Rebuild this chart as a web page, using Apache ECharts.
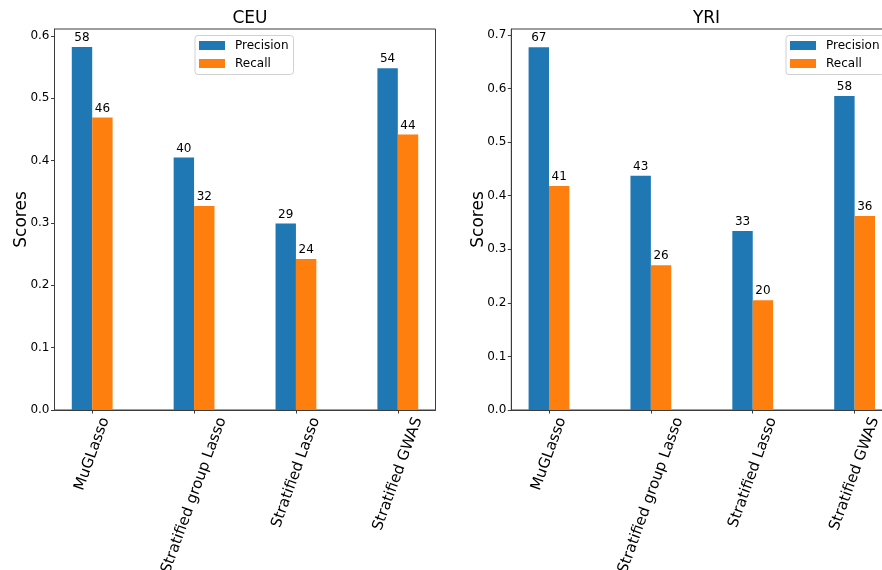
<!DOCTYPE html>
<html><head><meta charset="utf-8">
<script src="https://cdn.jsdelivr.net/npm/echarts@6/dist/echarts.min.js"></script>
<style>html,body{margin:0;padding:0;background:#fff}#c{width:882px;height:570px}</style>
</head><body><div id="c"></div>
<script>
const categories = ['MuGLasso', 'Stratified group Lasso', 'Stratified Lasso', 'Stratified GWAS'];
const seriesNames = ['Precision', 'Recall'];
const panelTitles = ['CEU', 'YRI'];
const ceuPrecision = [0.582, 0.405, 0.299, 0.548];
const ceuRecall = [0.469, 0.327, 0.242, 0.442];
const ceuPrecisionLabels = ['58', '40', '29', '54'];
const ceuRecallLabels = ['46', '32', '24', '44'];
const yriPrecision = [0.677, 0.437, 0.334, 0.586];
const yriRecall = [0.418, 0.270, 0.205, 0.362];
const yriPrecisionLabels = ['67', '43', '33', '58'];
const yriRecallLabels = ['41', '26', '20', '36'];
const ceuYTicks = [0, 0.1, 0.2, 0.3, 0.4, 0.5, 0.6];
const yriYTicks = [0, 0.1, 0.2, 0.3, 0.4, 0.5, 0.6, 0.7];

const FONT = 'DejaVu Sans';
const AX = '#3c3c3c';
const BLUE = '#1f77b4', ORANGE = '#ff7f0e';

// rich styles so the rotated label's bounding box is centred on its tick (matplotlib style)
const ctx = document.createElement('canvas').getContext('2d');
ctx.font = '15px "' + FONT + '"';
const rich = {};
categories.forEach((c, i) => {
  const L = ctx.measureText(c).width;
  rich['c' + i] = {fontSize: 15, fontFamily: FONT, color: '#000', padding: [0.321 * L, 0.883 * L, 0, 0]};
});
const catIdx = categories.map((c, i) => i);

function xAxis(gridIndex) {
  return {
    type: 'value', gridIndex, min: -0.37, max: 3.37,
    splitLine: {show: false},
    axisLine: {show: true, onZero: false, lineStyle: {color: AX, width: 1}},
    axisTick: {show: true, customValues: catIdx, length: 3.5, lineStyle: {color: AX}},
    axisLabel: {
      customValues: catIdx, rotate: 70, align: 'center', verticalAlign: 'middle', margin: 8,
      formatter: v => { const i = Math.round(v); return '{c' + i + '|' + categories[i] + '}'; },
      rich: rich
    },
    z: 5
  };
}
function yAxis(gridIndex, max, ticks) {
  return {
    type: 'value', gridIndex, min: 0, max: max,
    name: 'Scores', nameLocation: 'middle', nameGap: 24.5, nameMoveOverlap: false,
    nameTextStyle: {fontSize: 17, fontFamily: FONT, color: '#000'},
    splitLine: {show: false},
    axisLine: {show: true, onZero: false, lineStyle: {color: AX, width: 1}},
    axisTick: {show: true, customValues: ticks, length: 3.5, lineStyle: {color: AX}},
    axisLabel: {customValues: ticks, margin: 5, fontSize: 12, fontFamily: FONT, color: '#000',
      formatter: v => v.toFixed(1)},
    z: 5
  };
}
function legend(left) {
  return {
    left: left, top: 35.5, orient: 'vertical', icon: 'rect', itemWidth: 26, itemHeight: 9,
    itemGap: 4, padding: [3, 5, 4, 4],
    backgroundColor: 'rgba(255,255,255,0.8)', borderColor: '#d0d0d0', borderWidth: 1, borderRadius: 3,
    textStyle: {fontSize: 12, fontFamily: FONT, color: '#000', lineHeight: 14, padding: [0, 0, 0, 5]},
    data: seriesNames, selectedMode: false
  };
}
function bars(name, values, labels, color, idx) {
  return {
    type: 'bar', name: name, xAxisIndex: idx, yAxisIndex: idx,
    data: values.map((v, i) => [i, v]),
    barWidth: 20.4, barGap: '0%',
    itemStyle: {color: color},
    label: {show: true, position: 'top', distance: 3, fontSize: 12, fontFamily: FONT, color: '#000',
      formatter: p => labels[p.dataIndex]},
    z: 2
  };
}

const chart = echarts.init(document.getElementById('c'), null, {renderer: 'canvas'});
chart.setOption({
  animation: false,
  backgroundColor: '#fff',
  textStyle: {fontFamily: FONT},
  title: [
    {text: panelTitles[0], left: 245, top: 5, textAlign: 'center',
      textStyle: {fontSize: 17, fontWeight: 'normal', fontFamily: FONT, color: '#000'}},
    {text: panelTitles[1], left: 701.5, top: 5, textAlign: 'center',
      textStyle: {fontSize: 17, fontWeight: 'normal', fontFamily: FONT, color: '#000'}}
  ],
  legend: [legend(195), legend(786)],
  grid: [
    {left: 54.5, top: 29, width: 381, height: 381, show: true, borderColor: AX, borderWidth: 1,
      backgroundColor: 'transparent', containLabel: false, outerBoundsMode: 'none'},
    {left: 511.3, top: 29, width: 381, height: 381, show: true, borderColor: AX, borderWidth: 1,
      backgroundColor: 'transparent', containLabel: false, outerBoundsMode: 'none'}
  ],
  xAxis: [xAxis(0), xAxis(1)],
  yAxis: [yAxis(0, 0.611, ceuYTicks), yAxis(1, 0.711, yriYTicks)],
  series: [
    bars(seriesNames[0], ceuPrecision, ceuPrecisionLabels, BLUE, 0),
    bars(seriesNames[1], ceuRecall, ceuRecallLabels, ORANGE, 0),
    bars(seriesNames[0], yriPrecision, yriPrecisionLabels, BLUE, 1),
    bars(seriesNames[1], yriRecall, yriRecallLabels, ORANGE, 1)
  ]
});
</script></body></html>
